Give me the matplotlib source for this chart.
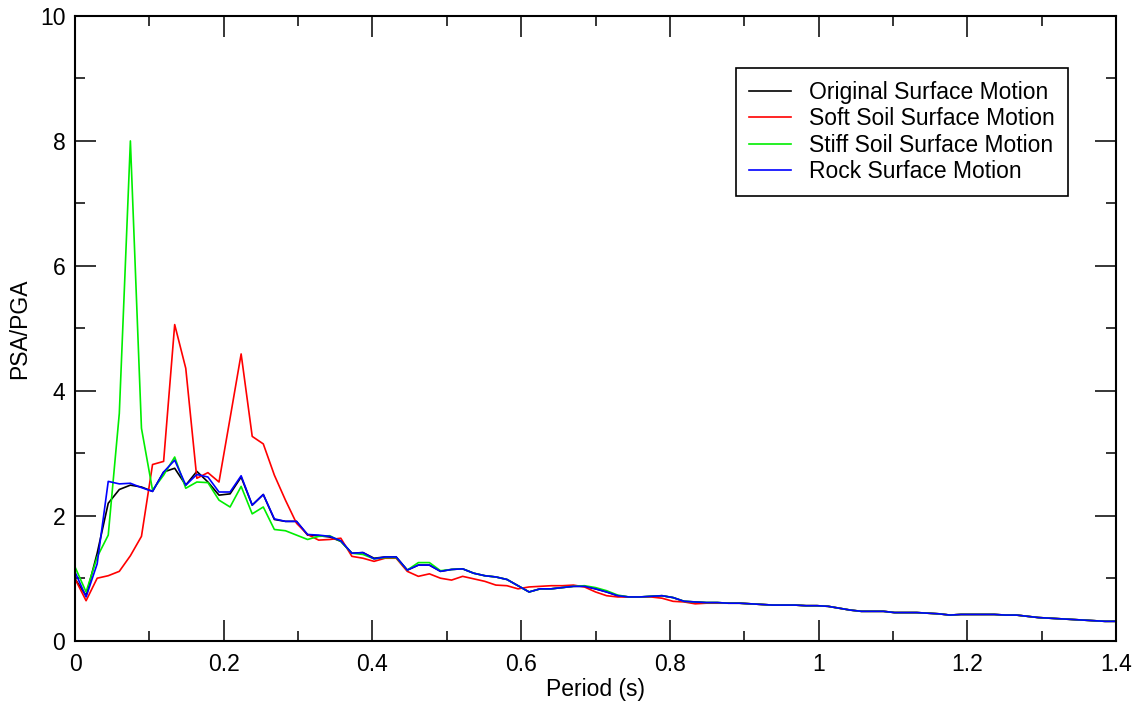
import numpy as np
import matplotlib
matplotlib.use("Agg")
import matplotlib.pyplot as plt
from matplotlib.ticker import MultipleLocator

plt.rcParams['font.family'] = ['Liberation Sans', 'DejaVu Sans']

# Period grid (s) - 95 evenly spaced periods
period = np.linspace(0, 1.4, 95)

# per-series values for the first 60 periods
original_head = [0.99, 0.72, 1.40, 2.20, 2.42, 2.49, 2.46, 2.39, 2.70, 2.76,
                 2.49, 2.71, 2.54, 2.33, 2.35, 2.62, 2.17, 2.34, 1.94, 1.91,
                 1.91, 1.69, 1.68, 1.66, 1.59, 1.40, 1.41, 1.32, 1.34, 1.34,
                 1.13, 1.21, 1.21, 1.11, 1.14, 1.15, 1.08, 1.04, 1.02, 0.98,
                 0.88, 0.78, 0.83, 0.83, 0.85, 0.87, 0.87, 0.83, 0.78, 0.72,
                 0.70, 0.70, 0.71, 0.72, 0.69, 0.63, 0.62, 0.61, 0.61, 0.60]

soft_head = [0.99, 0.64, 1.00, 1.04, 1.11, 1.36, 1.67, 2.82, 2.87, 5.06,
             4.36, 2.60, 2.69, 2.54, 3.56, 4.59, 3.27, 3.15, 2.65, 2.25,
             1.88, 1.70, 1.61, 1.62, 1.64, 1.35, 1.32, 1.27, 1.32, 1.32,
             1.11, 1.03, 1.07, 1.00, 0.97, 1.03, 0.99, 0.95, 0.89, 0.88,
             0.83, 0.86, 0.87, 0.88, 0.88, 0.89, 0.86, 0.78, 0.72, 0.70,
             0.70, 0.70, 0.70, 0.68, 0.63, 0.62, 0.59, 0.60, 0.60, 0.60]

stiff_head = [1.18, 0.78, 1.34, 1.69, 3.64, 8.00, 3.40, 2.41, 2.65, 2.94,
              2.44, 2.54, 2.53, 2.25, 2.14, 2.47, 2.03, 2.14, 1.78, 1.76,
              1.69, 1.62, 1.67, 1.68, 1.59, 1.40, 1.38, 1.31, 1.33, 1.33,
              1.13, 1.25, 1.25, 1.12, 1.14, 1.15, 1.08, 1.04, 1.02, 0.98,
              0.88, 0.78, 0.83, 0.83, 0.85, 0.87, 0.88, 0.85, 0.80, 0.73,
              0.70, 0.70, 0.71, 0.72, 0.69, 0.63, 0.62, 0.61, 0.61, 0.60]

rock_head = [1.10, 0.70, 1.23, 2.55, 2.51, 2.52, 2.45, 2.39, 2.70, 2.89,
             2.49, 2.66, 2.62, 2.38, 2.38, 2.64, 2.17, 2.34, 1.95, 1.91,
             1.91, 1.70, 1.69, 1.67, 1.60, 1.40, 1.41, 1.31, 1.34, 1.34,
             1.13, 1.21, 1.21, 1.11, 1.14, 1.15, 1.08, 1.04, 1.02, 0.98,
             0.88, 0.78, 0.83, 0.83, 0.85, 0.87, 0.87, 0.83, 0.78, 0.72,
             0.70, 0.70, 0.71, 0.72, 0.69, 0.63, 0.62, 0.61, 0.61, 0.60]

# long-period tail, the four curves coincide here
tail = [0.60, 0.59, 0.58, 0.57, 0.57, 0.57, 0.56, 0.56, 0.55, 0.52,
        0.49, 0.47, 0.47, 0.47, 0.45, 0.45, 0.45, 0.44, 0.43, 0.41,
        0.42, 0.42, 0.42, 0.42, 0.41, 0.41, 0.39, 0.37, 0.36, 0.35,
        0.34, 0.33, 0.32, 0.31, 0.31]

labels = ["Original Surface Motion", "Soft Soil Surface Motion",
          "Stiff Soil Surface Motion", "Rock Surface Motion"]
colors = ["#000000", "#ff0000", "#00ee00", "#0000ff"]
series = [original_head + tail, soft_head + tail, stiff_head + tail, rock_head + tail]

fig = plt.figure(figsize=(11.4, 7.07), dpi=100)
ax = fig.add_axes([0.0658, 0.0938, 0.9132, 0.8836])

for vals, lab, col in zip(series, labels, colors):
    ax.plot(period, vals, color=col, lw=1.2, label=lab)

ax.set_xlim(0, 1.4)
ax.set_ylim(0, 10)
ax.xaxis.set_minor_locator(MultipleLocator(0.1))
ax.yaxis.set_major_locator(MultipleLocator(2))
ax.yaxis.set_minor_locator(MultipleLocator(1))
ax.set_xticks([0, 0.2, 0.4, 0.6, 0.8, 1.0, 1.2, 1.4])
ax.set_xticklabels(["0", "0.2", "0.4", "0.6", "0.8", "1", "1.2", "1.4"])

ax.tick_params(which='both', direction='in', top=True, right=True, labelsize=16.5, width=1.1)
ax.tick_params(which='major', length=15)
ax.tick_params(which='minor', length=7)
ax.tick_params(axis='x', which='major', pad=9)
ax.tick_params(axis='y', which='major', pad=7)
for s in ax.spines.values():
    s.set_linewidth(1.5)

ax.set_xlabel("Period (s)", fontsize=16.5, labelpad=1)
ax.set_ylabel("PSA/PGA", fontsize=16.5, labelpad=6)

leg = ax.legend(loc='upper left', bbox_to_anchor=(0.635, 0.916), fontsize=16.5,
                fancybox=False, framealpha=1, edgecolor='black', borderaxespad=0,
                handlelength=1.85, handletextpad=0.8, labelspacing=0.15,
                borderpad=0.55)
leg.get_frame().set_linewidth(1.2)

fig.savefig("out.png", dpi=100)
